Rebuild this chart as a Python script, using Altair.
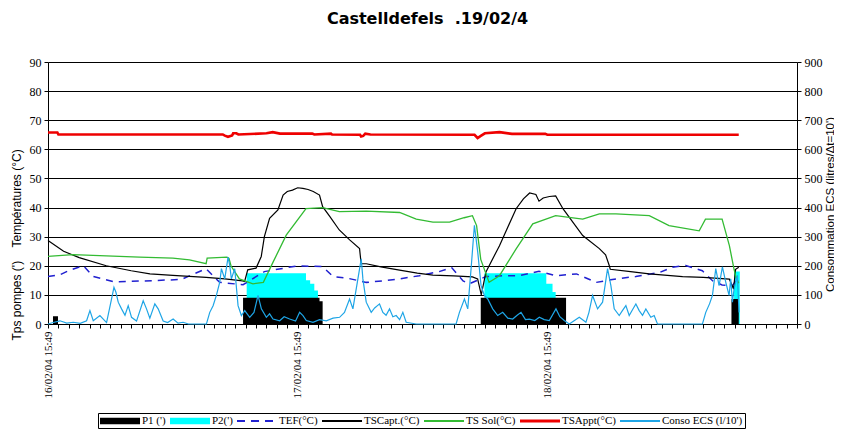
import altair as alt
import pandas as pd

title_text = "Castelldefels\u00a0 .19/02/4"
x_label_hours = [0, 24, 48]
x_label_text = ["16/02/04 15:49", "17/02/04 15:49", "18/02/04 15:49"]

series_names = ["P1 (')", "P2(')", "TEF(°C)", "TSCapt.(°C)", "TS Sol(°C)", "TSAppt(°C)", "Conso ECS (l/10')"]
series_colors = ["#000000", "#00ffff", "#2020d0", "#000000", "#33bb33", "#ee0000", "#1ea5e6"]

# pumps (step-after), hours since 16/02/04 15:49
p1_h = [0, 0.48, 0.96, 18.75, 26.1, 26.4, 41.6, 49.8, 65.7, 66.4]
p1_v = [0, 2.7, 0, 9, 7.8, 0, 9, 0, 8.6, 0]
p2_h = [0, 19.1, 24.8, 25.2, 25.6, 25.95, 41.95, 47.9, 48.5, 48.8, 65.95, 66.5]
p2_v = [0, 17.4, 15, 13.8, 11.5, 0, 17.4, 13.8, 11, 0, 18, 0]

tef_h = [0, 1.2, 2.1, 3.4, 4.35, 6.3, 9.3, 12.8, 15.2, 16.5, 18.75, 20.8, 24.0, 26.4, 27.4, 28.7,
         30.6, 32.2, 33.8, 35.7, 37.6, 38.8, 39.9, 40.5, 42.1, 44.0, 45.3, 47.2, 48.8, 50.8, 52.7,
         54.6, 56.5, 58.8, 60.0, 61.3, 62.9, 63.9, 64.8, 65.8, 66.1]
tef_v = [16.3, 17, 18.5, 20, 16.3, 14.5, 14.8, 15.3, 19, 14.3, 13.5, 18, 20, 19.7, 16.3, 15.8,
         14.3, 14.8, 15.5, 16.6, 18, 19.4, 14.8, 13.8, 16.3, 16.6, 16.6, 18.1, 16.6, 17.2, 14.3,
         15.5, 16.3, 17.7, 19.5, 20.1, 18.3, 14.8, 13.4, 13.2, 14.8]

capt_h = [0, 1.5, 3, 5.6, 8, 9.8, 12, 15.2, 17, 18.7, 18.9, 19.2, 20.0, 20.5, 20.8, 21.3, 22.1, 22.6,
          23.0, 23.5, 24.0, 24.5, 25.0, 25.5, 26.1, 26.4, 27.1, 28.0, 29.0, 29.95, 30.1, 30.6, 32,
          33.8, 35.5, 37.0, 39, 40.8, 41.3, 41.65, 42.1, 43.4, 45.0, 45.7, 46.3, 46.9, 47.2, 47.6,
          48.2, 48.8, 49.5, 51.4, 53.0, 53.6, 53.95, 54.05, 56, 57.8, 61.0, 63, 65.5, 65.9, 66.1, 66.4]
capt_v = [28.7, 25, 22.8, 20, 18.3, 17.2, 16.7, 16, 15.5, 14.8, 14.6, 18.6, 19.2, 23.2, 30, 36.3, 39.2, 44.3,
          45.5, 46, 46.8, 46.6, 46.2, 45.5, 44.3, 40.3, 36.9, 32.3, 28.9, 25.9, 20.7, 20.7, 19.6,
          18.5, 17.5, 16.8, 16.5, 16.2, 15.5, 10, 17.9, 26.9, 39.6, 43, 45, 44.5, 42.2, 43.3,
          43.8, 44, 39.6, 30.4, 25.9, 23.8, 20.1, 18.8, 18, 17.2, 16.3, 16, 15.4, 12, 18.8, 19.5]

sol_h = [0, 2.4, 5.6, 8.8, 12.0, 13.6, 15.2, 15.3, 17.2, 17.4, 17.6, 18.4, 19.7, 20.7, 21.6, 22.9,
         24.8, 26.4, 28.0, 30.6, 33.8, 35.4, 37.0, 38.6, 40.0, 40.8, 41.2, 41.6, 42.4, 43.4, 45.0,
         46.6, 48.8, 51.4, 53.0, 54.6, 57.8, 59.7, 62.6, 62.9, 63.2, 64.8, 65.5, 65.95, 66.1, 66.4]
sol_v = [23.2, 23.8, 23.4, 23, 22.6, 22, 20.7, 22.6, 23, 22.5, 19.9, 15.5, 13.8, 14.3, 21, 30.5,
         39.6, 40, 38.6, 38.8, 38.3, 36, 35, 35, 36.5, 37.2, 33.8, 22.2, 14.3, 16.6, 25.8,
         34.4, 37.2, 36, 37.8, 37.8, 37.2, 33.8, 32, 34, 36, 36, 26.9, 18.8, 16.6, 14]

appt_h = [0, 0.9, 1.0, 16.8, 17.0, 17.3, 17.7, 17.8, 18.1, 18.3, 21.0, 21.6, 22.3, 25.4, 25.6, 27.2,
          27.3, 30.0, 30.1, 30.3, 30.5, 31.0, 41.0, 41.3, 41.6, 42.0, 43.4, 44.6, 47.8, 48.0, 66.4]
appt_v = [65.8, 65.8, 65.1, 65.1, 64.7, 64.3, 64.8, 65.5, 65.5, 65.1, 65.5, 65.9, 65.4, 65.4, 65.1, 65.4,
          65.1, 65.0, 64.4, 64.6, 65.4, 65.1, 65.0, 63.9, 64.6, 65.5, 65.9, 65.3, 65.3, 65.0, 65.0]

conso_h = [0, 0.5, 1.15, 1.8, 2.43, 3.1, 3.71, 4.03, 4.35, 4.99, 5.63, 6.11, 6.34, 6.53, 6.75, 7.07,
           7.4, 7.71, 8.03, 8.51, 9.15, 9.47, 9.79, 10.27, 10.59, 11.07, 11.5, 12.03, 12.5, 12.99,
           13.5, 15.23, 15.55, 15.87, 16.2, 16.51, 16.67, 16.99, 17.31, 17.47, 17.63, 17.95, 18.27,
           18.59, 18.91, 19.39, 19.8, 20.19, 20.51, 20.99, 21.3, 21.63, 22.27, 22.7, 23.23, 23.8,
           24.19, 24.51, 24.83, 25.47, 26.1, 26.75, 27.4, 28.03, 28.5, 28.99, 29.31, 29.79, 30.11,
           30.27, 30.59, 31.07, 31.4, 31.87, 32.19, 32.5, 32.83, 33.15, 33.47, 33.8, 34.11, 34.43,
           35.39, 39.23, 39.55, 40.03, 40.35, 40.67, 40.99, 41.31, 41.63, 41.95, 42.27, 42.75,
           43.23, 43.71, 44.2, 44.67, 45.1, 45.47, 45.9, 46.27, 46.8, 47.23, 47.7, 48.19, 48.83,
           49.2, 49.63, 50.11, 51.07, 51.71, 52.0, 52.35, 52.83, 53.31, 53.79, 54.11, 54.43, 54.91,
           55.2, 55.55, 55.87, 56.2, 56.51, 56.83, 57.15, 57.47, 57.95, 58.27, 58.59, 62.91, 63.23,
           63.6, 63.87, 64.19, 64.51, 64.83, 65.15, 65.47, 65.63, 65.79, 65.95, 66.27, 66.43]
conso_v = [0, 5, 11, 3, 6, 2, 11, 46, 11, 29, 5, 86, 126, 109, 75, 52,
           30, 63, 23, 10, 80, 52, 20, 69, 52, 10, 5, 17, 3, 6,
           0, 0, 40, 63, 100, 144, 190, 155, 230, 201, 155, 190, 63,
           29, 46, 23, 40, 98, 52, 23, 35, 17, 11, 25, 17, 10,
           40, 29, 12, 6, 15, 11, 20, 23, 40, 86, 52, 155, 224,
           155, 75, 40, 55, 69, 40, 30, 52, 25, 29, 15, 40, 6,
           0, 0, 40, 86, 52, 190, 339, 247, 132, 98, 86, 52,
           29, 40, 20, 17, 30, 40, 15, 17, 12, 23, 15, 12, 52,
           25, 12, 0, 23, 6, 40, 98, 52, 75, 190, 132, 52, 29,
           45, 63, 29, 50, 69, 46, 30, 52, 23, 29, 0, 0, 40,
           70, 98, 190, 132, 196, 144, 98, 155, 75, 120, 167, 40]

# legend symbol paths (unit = 6 px, symbol drawn 40 px wide starting at entry left)
rect_sym = "M-1,-0.55H5.67V0.55H-1Z"
line_sym = "M-1,-0.15H5.67V0.15H-1Z"
red_sym = "M-1,-0.25H5.67V0.25H-1Z"
dash_sym = "M-1,-0.15H0.33V0.15H-1Z M1.33,-0.15H2.67V0.15H1.33Z M3.67,-0.15H5V0.15H3.67Z"
series_shapes = [rect_sym, rect_sym, dash_sym, line_sym, line_sym, red_sym, line_sym]

label_expr = "''"
for hh, tt in reversed(list(zip(x_label_hours, x_label_text))):
    label_expr = f"datum.value == {hh} ? '{tt}' : {label_expr}"

SERIF = "Liberation Serif"
SANS = "Liberation Sans"

x_enc = alt.X("h:Q", scale=alt.Scale(domain=[0, 72], nice=False, zero=False),
              axis=alt.Axis(values=list(range(0, 73)), labelExpr=label_expr, labelAngle=270,
                            labelAlign="right", labelBaseline="middle", labelFont=SERIF,
                            labelFontSize=11, labelColor="black", labelPadding=3,
                            labelOverlap=False, labelFlush=False, tickSize=4, tickColor="black",
                            domainColor="black", grid=False, title=None))

left_title = "Tps pompes (')" + "\u00a0" * 4 + "Températures (°C)"
y_left = alt.Y("v:Q", scale=alt.Scale(domain=[0, 90], nice=False, zero=True),
               axis=alt.Axis(values=list(range(0, 91, 10)), title=left_title, grid=True,
                             gridColor="black", gridWidth=1, gridOpacity=1, domainColor="black",
                             tickColor="black", tickSize=4, labelFont=SERIF, labelFontSize=12,
                             labelColor="black", labelPadding=3, titleFont=SANS, titleFontSize=12,
                             titleFontWeight="normal", titleColor="black", titleAngle=270,
                             titleAlign="left", titleBaseline="alphabetic", titleX=-28, titleY=278))

y_right = alt.Y("litres:Q", scale=alt.Scale(domain=[0, 900], nice=False, zero=True),
                axis=alt.Axis(orient="right", values=list(range(0, 901, 100)), grid=False,
                              title="Consommation ECS (litres/Δt=10')", domainColor="black",
                              tickColor="black", tickSize=4, labelFont=SERIF, labelFontSize=12,
                              labelColor="black", labelPadding=3, titleFont=SANS,
                              titleFontSize=11.5, titleFontWeight="normal", titleColor="black",
                              titleAngle=270, titleAlign="center", titleBaseline="alphabetic",
                              titleX=36, titleY=142))

def df(h, v, col="v"):
    return pd.DataFrame({"h": h, col: v})

p2 = alt.Chart(df(p2_h, p2_v)).mark_area(interpolate="step-after", color="#00ffff").encode(x=x_enc, y=y_left)
p1 = alt.Chart(df(p1_h, p1_v)).mark_area(interpolate="step-after", color="#000000").encode(x=x_enc, y=y_left)
tef = alt.Chart(df(tef_h, tef_v)).mark_line(color="#2020d0", strokeWidth=1.5, strokeDash=[7, 6]).encode(x=x_enc, y=y_left)
capt = alt.Chart(df(capt_h, capt_v)).mark_line(color="#000000", strokeWidth=1.2).encode(x=x_enc, y=y_left)
sol = alt.Chart(df(sol_h, sol_v)).mark_line(color="#33bb33", strokeWidth=1.3).encode(x=x_enc, y=y_left)
appt = alt.Chart(df(appt_h, appt_v)).mark_line(color="#ee0000", strokeWidth=2.6).encode(x=x_enc, y=y_left)

leg = alt.Legend(title=None, orient="none", legendX=50, legendY=351, direction="horizontal",
                 columns=7, strokeColor="black", padding=2, fillColor="white",
                 labelFont=SERIF, labelFontSize=11, labelColor="black", labelOffset=30,
                 columnPadding=4, symbolSize=144, symbolStrokeWidth=0, symbolOpacity=1, labelLimit=0)
legend_df = pd.DataFrame({"series": series_names, "h": [1] * 7, "v": [-50] * 7})
legend_layer = alt.Chart(legend_df).mark_point(filled=True, opacity=1, clip=True, size=144).encode(
    x=x_enc, y=y_left,
    color=alt.Color("series:N", scale=alt.Scale(domain=series_names, range=series_colors), legend=leg),
    shape=alt.Shape("series:N", scale=alt.Scale(domain=series_names, range=series_shapes), legend=leg))

left = alt.layer(p2, p1, tef, capt, sol, appt, legend_layer)
right = alt.Chart(df(conso_h, conso_v, "litres")).mark_line(color="#1ea5e6", strokeWidth=1.2).encode(x=x_enc, y=y_right)

chart = alt.layer(left, right).resolve_scale(y="independent").properties(
    width=749, height=262,
    title=alt.TitleParams(text=title_text, font="DejaVu Sans", fontSize=16, fontWeight="bold",
                          color="black", anchor="middle", offset=16, baseline="alphabetic", dx=5),
    autosize=alt.AutoSizeParams(type="none"),
    padding={"left": 40, "top": 54, "right": 37, "bottom": 105},
    background="white",
).configure_view(stroke=None)

chart.save("out.html", embed_options={"renderer": "svg", "actions": False})
